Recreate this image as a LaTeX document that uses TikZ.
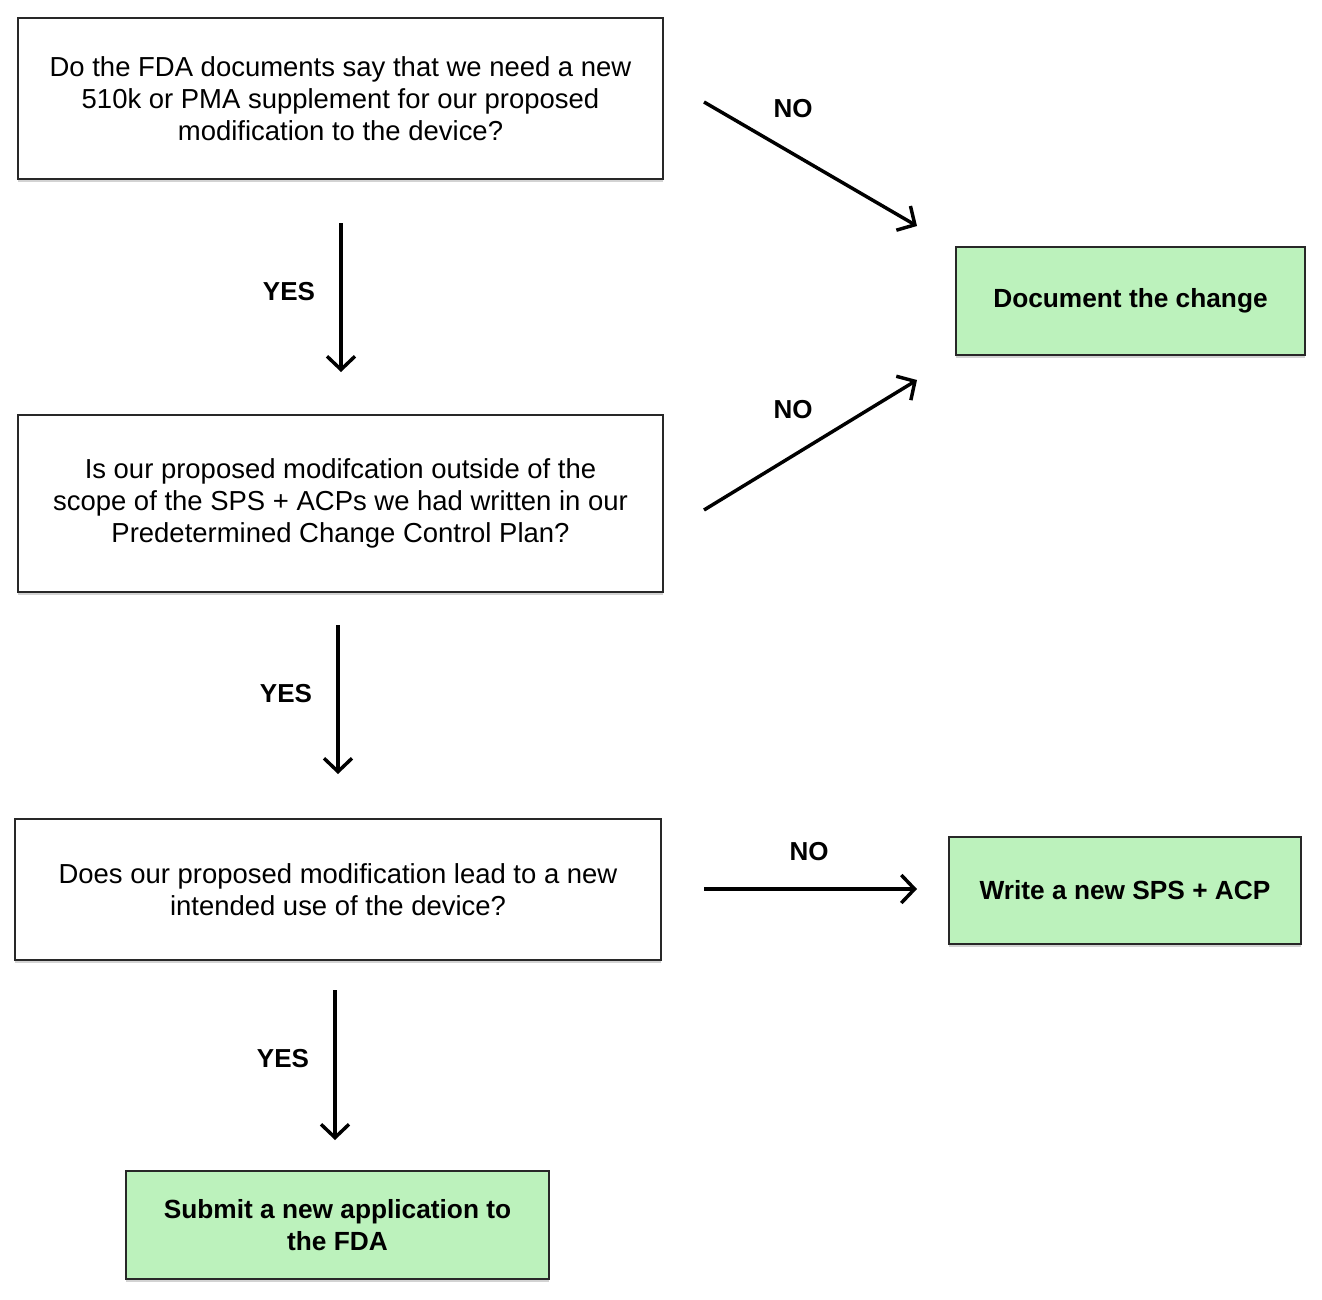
\documentclass[tikz,border=0pt]{standalone}
\usepackage{fontspec}
\setmainfont{Liberation Sans}
\usetikzlibrary{arrows.meta,shadows}
\definecolor{boxgreen}{RGB}{188,242,188}
\definecolor{boxedge}{RGB}{40,40,40}
\tikzset{
  qbox/.style={draw=boxedge, line width=1.1pt, fill=white, align=center, inner sep=0pt,
    font=\fontsize{20.6pt}{24pt}\selectfont,
    drop shadow={shadow xshift=0pt, shadow yshift=-2.2pt, opacity=0.35, fill=gray}},
  gbox/.style={qbox, fill=boxgreen, font=\fontsize{19.7pt}{24pt}\selectfont\bfseries},
  flow/.style={line width=2.6pt, -{Straight Barb[length=10pt,width=21pt,line width=2.6pt]}},
  lbl/.style={font=\fontsize{19.5pt}{24pt}\selectfont\bfseries}
}
\begin{document}
\begin{tikzpicture}[x=0.75pt,y=-0.75pt]
\useasboundingbox (0,0) rectangle (1322,1300);
\node[qbox, minimum width=645*0.75pt, minimum height=161*0.75pt] (q1) at (340.5,98.5)
  {Do the FDA documents say that we need a new\\510k or PMA supplement for our proposed\\modification to the device?};
\node[qbox, minimum width=645*0.75pt, minimum height=177*0.75pt] (q2) at (340.5,503.5)
  {Is our proposed modifcation outside of the\\scope of the SPS + ACPs we had written in our\\Predetermined Change Control Plan?};
\node[qbox, minimum width=646*0.75pt, minimum height=141*0.75pt] (q3) at (338,889.5)
  {Does our proposed modification lead to a new\\intended use of the device?};
\node[gbox, minimum width=349*0.75pt, minimum height=108*0.75pt] (doc) at (1130.5,301)
  {Document the change};
\node[gbox, minimum width=352*0.75pt, minimum height=107*0.75pt] (write) at (1125,890.5)
  {Write a new SPS + ACP};
\node[gbox, minimum width=423*0.75pt, minimum height=108*0.75pt] (submit) at (337.5,1225)
  {Submit a new application to\\the FDA};

\coordinate (a1s) at (341,223); \coordinate (a1e) at (341,372);
\coordinate (n1s) at (704,102); \coordinate (n1e) at (917,226);
\coordinate (n2s) at (704,510); \coordinate (n2e) at (917,380);
\coordinate (a2s) at (338,625); \coordinate (a2e) at (338,774);
\coordinate (n3s) at (704,889); \coordinate (n3e) at (917,889);
\coordinate (a3s) at (335,990); \coordinate (a3e) at (335,1140);

\draw[flow] (a1s) -- (a1e);
\draw[flow] (n1s) -- (n1e);
\draw[flow] (n2s) -- (n2e);
\draw[flow] (a2s) -- (a2e);
\draw[flow] (n3s) -- (n3e);
\draw[flow] (a3s) -- (a3e);

\node[lbl] (y1) at (289,292) {YES};
\node[lbl] (y2) at (286,694) {YES};
\node[lbl] (y3) at (283,1059) {YES};
\node[lbl] (no1) at (793,109) {NO};
\node[lbl] (no2) at (793,410) {NO};
\node[lbl] (no3) at (809,852) {NO};
\end{tikzpicture}
\end{document}
